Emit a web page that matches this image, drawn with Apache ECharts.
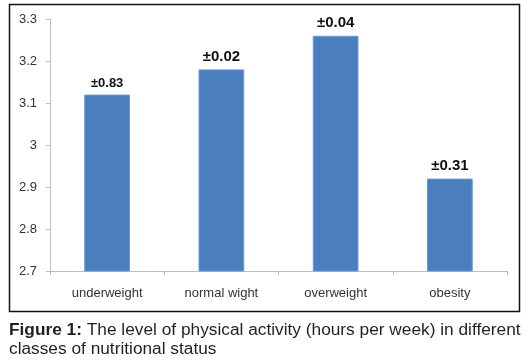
<!DOCTYPE html>
<html>
<head>
<meta charset="utf-8">
<script src="https://cdn.jsdelivr.net/npm/echarts@6/dist/echarts.min.js"></script>
<style>
html,body{margin:0;padding:0;background:#fff;}
#c{width:528px;height:364px;}
</style>
</head>
<body>
<div id="c"></div>
<script>
var categories = ['underweight', 'normal wight', 'overweight', 'obesity'];
var values = [3.12, 3.18, 3.26, 2.92];
var errorLabels = ['±0.83', '±0.02', '±0.04', '±0.31'];
var yTicks = [2.7, 2.8, 2.9, 3, 3.1, 3.2, 3.3];
var captionBold = 'Figure 1:';
var captionLine1 = ' The level of physical activity (hours per week) in different';
var captionLine2 = 'classes of nutritional status';

var chart = echarts.init(document.getElementById('c'), null, {renderer: 'canvas'});
var data = values.map(function (v, i) {
  return {
    value: v,
    label: {
      formatter: errorLabels[i],
      fontSize: i === 0 ? 13 : 15
    }
  };
});
chart.setOption({
  animation: false,
  backgroundColor: '#fff',
  grid: {left: 50, right: 21, top: 19, bottom: 93, containLabel: false},
  xAxis: {
    type: 'category',
    data: categories,
    axisLine: {lineStyle: {color: '#bdbdbd', width: 1}},
    axisTick: {show: true, length: 4, lineStyle: {color: '#bdbdbd'}},
    axisLabel: {color: '#333', fontSize: 13, margin: 16, fontFamily: 'Liberation Sans'}
  },
  yAxis: {
    type: 'value',
    min: yTicks[0],
    max: yTicks[yTicks.length - 1],
    interval: 0.1,
    splitLine: {show: false},
    axisLine: {show: true, lineStyle: {color: '#bdbdbd', width: 1}},
    axisTick: {show: true, length: 4, lineStyle: {color: '#bdbdbd'}},
    axisLabel: {
      color: '#333', fontSize: 13, margin: 13, fontFamily: 'Liberation Sans',
      formatter: function (v) { return String(Math.round(v * 10) / 10); }
    }
  },
  series: [{
    type: 'bar',
    data: data,
    barWidth: '40%',
    itemStyle: {color: '#4a7ebf', borderColor: '#6a98d0', borderWidth: 1},
    label: {
      show: true,
      position: 'top',
      distance: 5,
      color: '#111',
      fontWeight: 'bold',
      fontFamily: 'Liberation Sans'
    }
  }],
  graphic: [
    {type: 'rect', shape: {x: 9.5, y: 4.5, width: 510, height: 307},
     style: {fill: 'none', stroke: '#111', lineWidth: 1.5}, z: 10},
    {type: 'text', left: 9, top: 321,
     style: {
       text: '{b|' + captionBold + '}' + captionLine1 + '\n' + captionLine2,
       rich: {b: {fontWeight: 'bold', fontSize: 17.3, fontFamily: 'Liberation Sans', fill: '#231f20', lineHeight: 19}},
       fontSize: 17.3,
       fontFamily: 'Liberation Sans',
       fill: '#231f20',
       lineHeight: 19
     }}
  ]
});
</script>
</body>
</html>
